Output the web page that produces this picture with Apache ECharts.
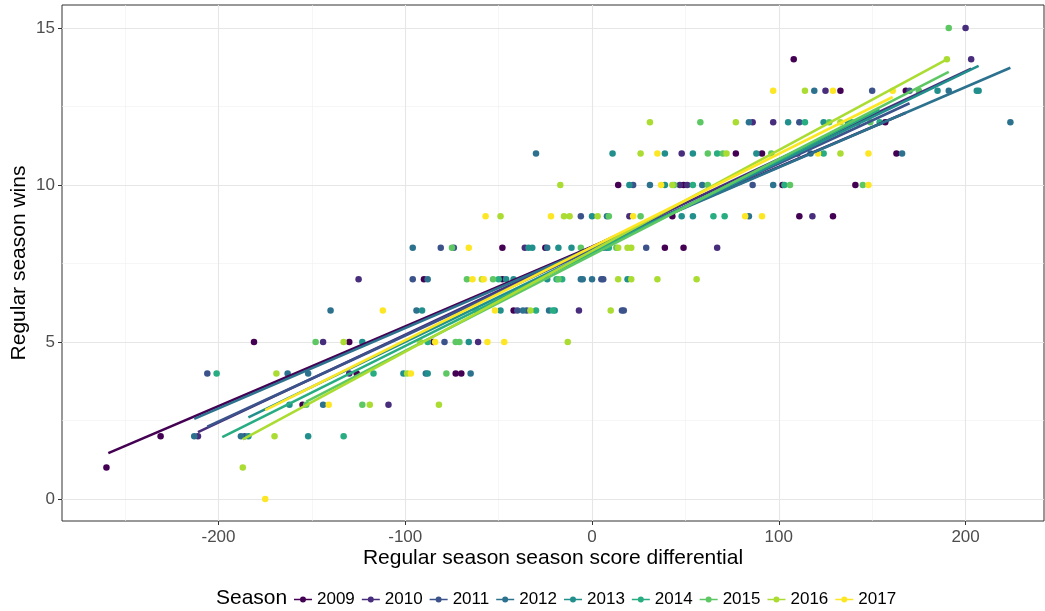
<!DOCTYPE html>
<html>
<head>
<meta charset="utf-8">
<script src="https://cdn.jsdelivr.net/npm/echarts@6/dist/echarts.min.js"></script>
<style>
html,body{margin:0;padding:0;background:#fff;}
#chart{width:1045px;height:611px;}
</style>
</head>
<body>
<div id="chart"></div>
<script>
// ---------------- data ----------------
const seasons = ['2009','2010','2011','2012','2013','2014','2015','2016','2017'];
const seasonColors = ['#440154','#472D7B','#3B528B','#2C728E','#21908C','#27AD81','#5DC863','#AADC32','#FDE725'];

// [score differential, wins]
const pts2009 = [[-260,1],[-231,2],[-155,3],[-126,4],[-73,4],[-70,4],[-181,5],[-130,5],[-85,5],[-42,6],[-90,7],[-48,7],[-48,8],[-25,8],[3,8],[39,8],[49,8],[43,9],[111,9],[129,9],[14,10],[49,10],[102,10],[141,10],[77,11],[91,11],[163,11],[142,12],[157,12],[133,13],[168,13],[108,14]];
const pts2010 = [[-211,2],[-130,4],[-109,3],[-144,5],[-61,5],[-7,6],[-125,7],[-36,8],[67,8],[20,9],[118,9],[47,10],[51,10],[48,11],[110,11],[86,12],[97,12],[125,13],[203,14],[200,15]];
const pts2011 = [[-186,2],[-206,4],[-79,5],[-40,6],[-35,6],[16,6],[17,6],[-96,7],[5,7],[6,7],[-81,8],[-74,8],[29,8],[-6,9],[22,10],[86,10],[111,12],[150,13],[170,13]];
const pts2012 = [[-213,2],[-188,2],[-144,3],[-163,4],[-152,4],[-89,4],[-65,4],[-140,6],[-94,6],[-37,6],[-23,6],[-88,7],[-6,7],[-5,7],[0,7],[-96,8],[-24,8],[6,8],[8,8],[8,9],[84,9],[31,10],[59,10],[97,10],[-30,11],[117,11],[166,11],[84,12],[119,13],[191,13],[224,12]];
const pts2013 = [[-184,2],[-152,2],[-162,3],[-101,4],[-88,4],[-123,5],[-66,5],[-91,6],[-49,6],[-20,6],[-46,7],[-42,7],[-24,7],[19,7],[-34,8],[-32,8],[-18,8],[-11,8],[0,9],[48,9],[54,9],[20,10],[39,10],[11,11],[39,11],[54,11],[88,11],[105,12],[124,12],[137,12],[185,13],[206,13],[207,13]];
const pts2014 = [[-133,2],[-201,4],[-117,4],[-88,5],[-30,6],[-21,6],[-50,7],[-19,7],[-16,7],[9,8],[65,9],[71,9],[54,10],[103,10],[67,11],[124,11],[114,12],[139,12],[154,12]];
const pts2015 = [[-153,3],[-123,3],[-148,5],[-73,5],[-71,5],[-78,4],[-62,6],[-67,7],[-53,7],[-18,7],[-75,8],[-6,8],[13,8],[9,9],[26,9],[44,10],[62,10],[106,10],[145,10],[62,11],[70,11],[96,11],[58,12],[127,12],[149,12],[175,13],[191,15]];
const pts2016 = [[-187,1],[-170,2],[-119,3],[-82,3],[-169,4],[-99,4],[-133,5],[-92,5],[-13,5],[-33,6],[10,6],[-59,7],[14,7],[21,7],[35,7],[56,7],[14,8],[19,8],[21,8],[-49,9],[-15,9],[-12,9],[3,9],[-17,10],[43,10],[26,11],[72,11],[133,11],[31,12],[77,12],[133,12],[114,13],[190,14]];
const pts2017 = [[-175,0],[-141,3],[-97,4],[-84,5],[-56,5],[-47,5],[-112,6],[-52,6],[-64,7],[-58,7],[-66,8],[-57,9],[-22,9],[22,9],[82,9],[91,9],[37,10],[148,10],[35,11],[121,11],[148,11],[97,13],[129,13],[161,13]];
const seasonPoints = [pts2009,pts2010,pts2011,pts2012,pts2013,pts2014,pts2015,pts2016,pts2017];

// fitted (linear) line ends: [x start, wins at start, x end, wins at end]
const fitStartX = [-259,-211,-206,-213,-184,-198,-153,-187,-175];
const fitStartY = [1.46,2.13,2.30,2.55,2.60,1.97,3.10,1.90,2.83];
const fitEndX   = [168,203,170,224,207,154,191,190,161];
const fitEndY   = [12.30,13.70,12.60,13.73,13.79,12.40,13.60,14.00,12.80];

const xTicks = [-200,-100,0,100,200];
const xMinor = [-250,-150,-50,50,150];
const yTicks = [0,5,10,15];
const yMinor = [2.5,7.5,12.5];

// ---------------- chart ----------------
const chart = echarts.init(document.getElementById('chart'), null, {renderer:'canvas'});
const FONT = 'Liberation Sans, Arial, Helvetica, sans-serif';

const gridLines = [];
xMinor.forEach(v => gridLines.push({xAxis:v, lineStyle:{color:'#F0F0F0', width:0.6, type:'solid'}}));
yMinor.forEach(v => gridLines.push({yAxis:v, lineStyle:{color:'#F0F0F0', width:0.6, type:'solid'}}));
xTicks.forEach(v => gridLines.push({xAxis:v, lineStyle:{color:'#E6E6E6', width:1.1, type:'solid'}}));
yTicks.forEach(v => gridLines.push({yAxis:v, lineStyle:{color:'#E6E6E6', width:1.1, type:'solid'}}));

const series = [{
  name:'grid', type:'line', data:[[-1000,-1000]], showSymbol:false, silent:true, z:0,
  lineStyle:{width:0},
  markLine:{z:0, silent:true, symbol:['none','none'], label:{show:false}, animation:false, data:gridLines}
}];
seasons.forEach((s,i) => {
  series.push({
    name:s, type:'scatter', data:seasonPoints[i], symbolSize:6.5, z:3,
    itemStyle:{color:seasonColors[i], opacity:1}
  });
});
seasons.forEach((s,i) => {
  series.push({
    name:s, type:'line', z:4, showSymbol:false, silent:true,
    data:[[fitStartX[i],fitStartY[i]],[fitEndX[i],fitEndY[i]]],
    lineStyle:{color:seasonColors[i], width:2.6}, itemStyle:{color:seasonColors[i]}
  });
});

chart.setOption({
  animation:false,
  backgroundColor:'#fff',
  textStyle:{fontFamily:FONT},
  grid:{left:62, right:1, top:5, bottom:90, show:true, borderColor:'#333', borderWidth:1, backgroundColor:'#fff', containLabel:false, outerBoundsMode:'none'},
  xAxis:{
    type:'value', min:-283.8, max:242, splitNumber:5,
    axisLine:{show:false, onZero:false},
    axisTick:{show:true, length:4, lineStyle:{color:'#333'}, customValues:xTicks},
    axisLabel:{color:'#4D4D4D', fontSize:17, margin:8, customValues:xTicks, fontFamily:FONT},
    splitLine:{show:false},
    name:'Regular season season score differential', nameLocation:'middle', nameGap:27, nameMoveOverlap:false,
    nameTextStyle:{color:'#000', fontSize:21, fontFamily:FONT}
  },
  yAxis:{
    type:'value', min:-0.70, max:15.73, splitNumber:3,
    axisLine:{show:false, onZero:false},
    axisTick:{show:true, length:4, lineStyle:{color:'#333'}, customValues:yTicks},
    axisLabel:{color:'#4D4D4D', fontSize:17, margin:7, customValues:yTicks, fontFamily:FONT},
    splitLine:{show:false},
    name:'Regular season wins', nameLocation:'middle', nameGap:32, nameRotate:90, nameMoveOverlap:false,
    nameTextStyle:{color:'#000', fontSize:21, fontFamily:FONT}
  },
  legend:{
    data:seasons, orient:'horizontal', left:289, top:586,
    itemWidth:18, itemHeight:8, itemGap:7,
    icon:'path://M0,3.3 L18,3.3 L18,4.7 L0,4.7 Z M9,1 A3,3 0 1 1 8.99,1 Z',
    textStyle:{color:'#000', fontSize:17, fontFamily:FONT},
    selectedMode:false
  },
  graphic:[{
    type:'text', left:216, top:588,
    style:{text:'Season', fill:'#000', font:'21px ' + FONT}
  }],
  series:series
});
</script>
</body>
</html>
